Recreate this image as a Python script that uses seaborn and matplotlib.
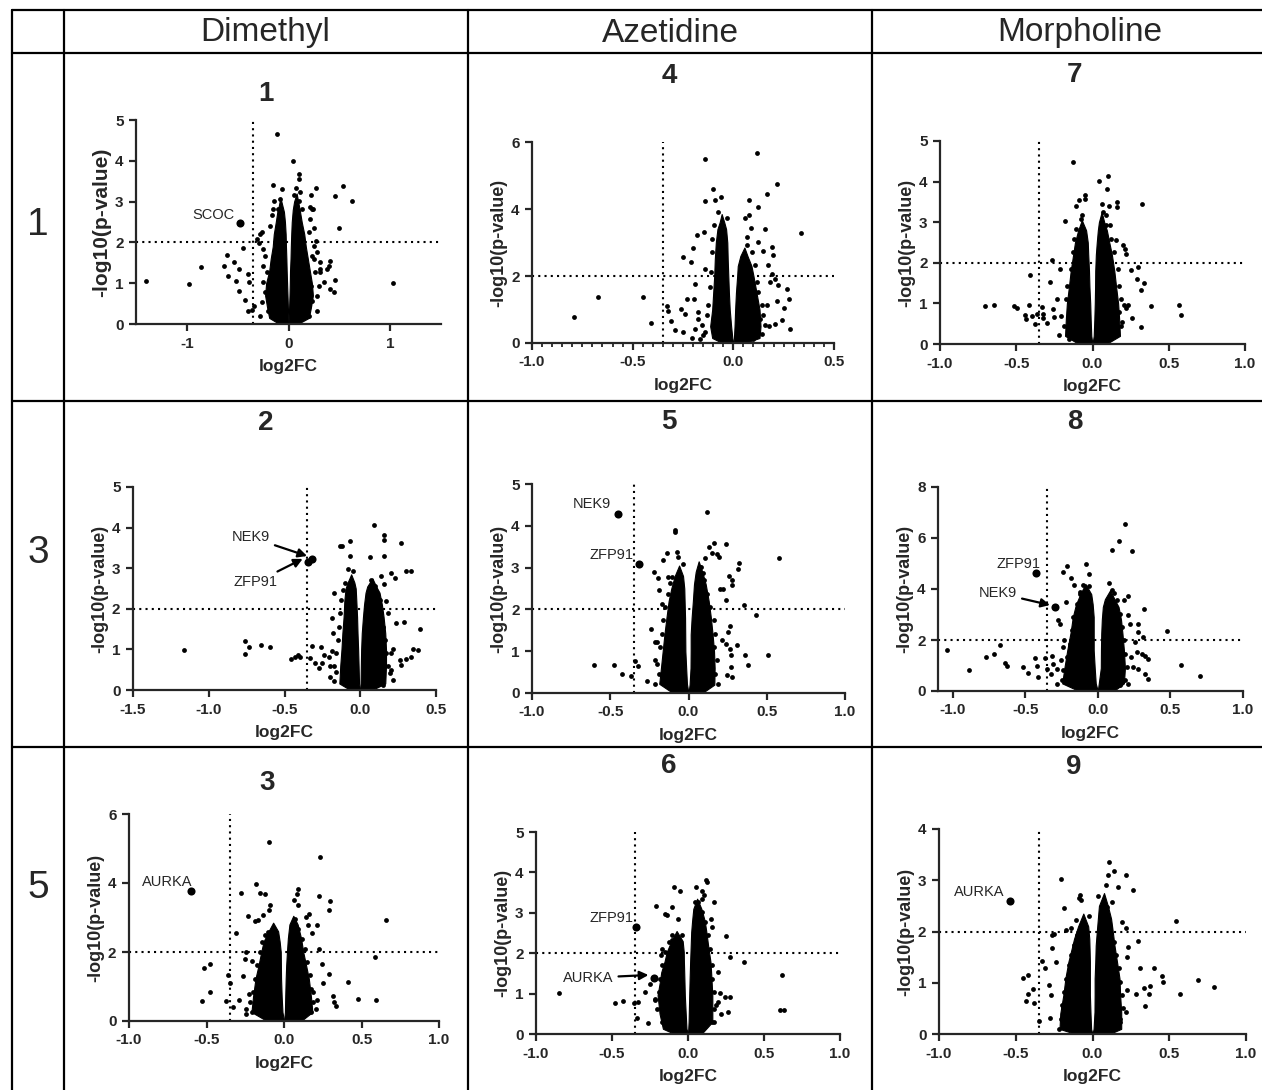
import matplotlib
matplotlib.use('Agg')
import matplotlib.pyplot as plt
import seaborn as sns
from matplotlib.lines import Line2D
from matplotlib.ticker import MultipleLocator, FormatStrFormatter

sns.set_style('ticks')
plt.rcParams['font.family'] = ['Liberation Sans', 'DejaVu Sans']
plt.rcParams['axes.unicode_minus'] = False

# table headers
columns = ['Dimethyl', 'Azetidine', 'Morpholine']
rows = ['1', '3', '5']

# thresholds drawn as dotted lines
fc_cut = -0.35
p_cut = 2

# ---- compound 1 (Dimethyl / row 1) ----
c1_points = [(-1.406, 1.06), (-0.975, 0.99), (-0.864, 1.39), (-0.607, 1.70), (-0.634, 1.43), (-0.598, 1.17),
             (-0.532, 1.53), (-0.516, 1.06), (-0.486, 1.36), (-0.486, 0.82), (-0.45, 1.86), (-0.427, 0.58),
             (-0.40, 1.23), (-0.39, 1.02), (-0.394, 0.33), (-0.36, 0.35), (-0.335, 0.45), (-0.31, 2.08),
             (-0.286, 1.99), (-0.28, 0.2), (-0.256, 2.25), (-0.154, 3.41), (-0.066, 3.31), (-0.115, 4.66),
             (-0.14, 3.02), (0.049, 3.99), (0.105, 3.68), (0.10, 3.55), (0.072, 3.33), (0.05, 3.15),
             (0.115, 3.24), (0.22, 3.15), (0.27, 3.33), (0.207, 2.86), (0.24, 2.82), (0.253, 2.35),
             (0.27, 2.04), (0.28, 1.76), (0.246, 1.59), (0.305, 1.35), (0.378, 1.35), (0.41, 1.55),
             (0.40, 1.43), (0.453, 3.13), (0.535, 3.39), (0.624, 3.02), (0.50, 2.35), (0.453, 1.08),
             (0.41, 0.86), (0.443, 0.79), (1.025, 1.00), (0.296, 0.94), (0.23, 0.57), (0.28, 0.33),
             (0.197, 0.2), (0.31, 1.27), (0.345, 1.02)]
c1_halo = [(-0.28, 2.21), (-0.253, 1.84), (-0.23, 1.67), (-0.246, 1.43), (-0.213, 1.27), (-0.253, 1.02),
           (-0.236, 0.78), (-0.263, 0.53), (-0.204, 0.33), (-0.18, 2.41), (-0.164, 2.66), (-0.148, 2.82),
           (-0.082, 3.06), (-0.10, 2.82), (0.23, 2.82), (0.213, 2.57), (0.197, 2.25), (0.253, 1.92),
           (0.23, 1.67), (0.312, 1.51), (0.263, 1.27), (0.22, 0.94), (0.28, 0.69), (0.197, 0.45),
           (0.148, 0.2), (0.10, 3.02), (0.131, 2.82), (0.082, 2.57)]
c1_left_y = [0, 0.15, 0.4, 0.7, 1.0, 1.3, 1.6, 1.9, 2.2, 2.5, 2.75, 2.9, 3.1]
c1_left_out = [-0.09, -0.19, -0.21, -0.23, -0.22, -0.19, -0.175, -0.155, -0.145, -0.125, -0.11, -0.095, -0.08]
c1_left_in = [0.0, -0.002, -0.006, -0.01, -0.014, -0.018, -0.021, -0.025, -0.028, -0.035, -0.045, -0.06, -0.08]
c1_right_y = [0, 0.15, 0.4, 0.7, 1.0, 1.3, 1.6, 1.9, 2.2, 2.5, 2.8, 3.0, 3.2]
c1_right_in = [0.0, 0.003, 0.006, 0.01, 0.013, 0.015, 0.02, 0.023, 0.027, 0.032, 0.042, 0.055, 0.08]
c1_right_out = [0.09, 0.20, 0.22, 0.24, 0.23, 0.21, 0.19, 0.17, 0.155, 0.13, 0.11, 0.095, 0.08]
c1_hits = [('SCOC', -0.473, 2.475)]

# ---- compound 4 (Azetidine / row 1) ----
c4_points = [(-0.789, 0.77), (-0.67, 1.36), (-0.45, 1.36), (-0.41, 0.60), (-0.33, 1.09), (-0.326, 0.96),
             (-0.31, 0.67), (-0.29, 0.40), (-0.26, 1.02), (-0.251, 2.56), (-0.248, 0.33), (-0.23, 1.31),
             (-0.24, 0.88), (-0.21, 2.42), (-0.20, 2.84), (-0.18, 3.21), (-0.207, 0.15), (-0.19, 1.77),
             (-0.193, 1.32), (-0.174, 0.93), (-0.14, 5.50), (-0.14, 4.23), (-0.145, 3.31), (-0.10, 4.61),
             (-0.063, 4.37), (-0.09, 4.26), (-0.033, 3.74), (-0.14, 2.22), (0.12, 5.68), (0.218, 4.75),
             (0.165, 4.46), (0.124, 4.06), (0.078, 4.28), (0.078, 3.81), (0.058, 3.74), (0.086, 3.44),
             (0.157, 3.39), (0.334, 3.28), (0.069, 3.15), (0.124, 3.01), (0.149, 2.74), (0.19, 2.87),
             (0.198, 2.64), (0.17, 2.32), (0.19, 2.07), (0.207, 1.92), (0.18, 1.82), (0.223, 1.72),
             (0.265, 1.60), (0.276, 1.32), (0.253, 1.05), (0.215, 1.24), (0.24, 0.70), (0.207, 0.58),
             (0.28, 0.43), (0.165, 1.12), (0.149, 0.83), (0.177, 0.51)]
c4_halo = [(-0.174, 0.73), (-0.157, 0.53), (-0.14, 0.33), (-0.132, 0.83), (-0.124, 1.12), (-0.149, 0.23),
           (-0.116, 1.67), (-0.111, 2.12), (-0.107, 2.72), (-0.104, 3.11), (-0.094, 3.51), (-0.074, 3.91),
           (-0.165, 0.13), (-0.19, 0.43), (0.132, 0.73), (0.14, 1.12), (0.124, 1.52), (0.116, 1.82),
           (0.107, 2.32), (0.091, 2.72), (0.066, 2.92), (0.055, 2.52), (0.157, 0.53), (0.14, 0.28),
           (0.099, 0.13)]
c4_left_y = [0, 0.15, 0.5, 1.0, 1.5, 2.0, 2.5, 3.0, 3.4, 3.6, 3.85]
c4_left_out = [-0.055, -0.105, -0.115, -0.105, -0.10, -0.095, -0.092, -0.087, -0.079, -0.068, -0.058]
c4_left_in = [0.0, -0.005, -0.011, -0.018, -0.022, -0.025, -0.028, -0.03, -0.036, -0.045, -0.058]
c4_right_y = [0, 0.15, 0.5, 1.0, 1.5, 2.0, 2.3, 2.6, 2.85]
c4_right_in = [0.0, 0.003, 0.006, 0.009, 0.013, 0.019, 0.022, 0.035, 0.055]
c4_right_out = [0.055, 0.13, 0.135, 0.13, 0.115, 0.10, 0.09, 0.07, 0.055]
c4_hits = []

# ---- compound 7 (Morpholine / row 1) ----
c7_points = [(-0.706, 0.93), (-0.645, 0.97), (-0.518, 0.93), (-0.498, 0.88), (-0.41, 1.71), (-0.418, 0.95),
             (-0.44, 0.72), (-0.437, 0.62), (-0.40, 0.70), (-0.378, 0.49), (-0.365, 0.74), (-0.328, 0.92),
             (-0.324, 0.74), (-0.324, 0.64), (-0.30, 0.52), (-0.277, 1.52), (-0.268, 2.06), (-0.26, 0.86),
             (-0.25, 0.66), (-0.23, 1.11), (-0.21, 1.85), (-0.18, 3.03), (-0.13, 4.48), (-0.105, 3.41),
             (-0.088, 3.54), (-0.05, 3.68), (-0.05, 3.58), (-0.066, 3.17), (0.043, 4.01), (0.10, 4.13),
             (0.093, 3.82), (0.06, 3.45), (0.16, 3.50), (0.16, 3.37), (0.109, 3.39), (0.327, 3.45),
             (0.115, 2.92), (0.087, 3.17), (0.153, 2.55), (0.20, 2.43), (0.218, 2.22), (0.21, 2.33),
             (0.25, 1.83), (0.30, 1.89), (0.339, 1.50), (0.29, 1.60), (0.317, 1.34), (0.233, 0.95),
             (0.218, 0.88), (0.192, 0.55), (0.258, 0.64), (0.32, 0.41), (0.383, 0.93), (0.568, 0.95),
             (0.58, 0.71), (0.115, 0.12)]
c7_halo = [(-0.186, 0.45), (-0.208, 0.70), (-0.175, 1.11), (-0.164, 1.44), (-0.142, 1.85), (-0.131, 2.26),
           (-0.12, 2.59), (-0.105, 2.84), (-0.077, 3.08), (-0.219, 0.21), (-0.153, 0.12), (0.186, 0.45),
           (0.175, 0.78), (0.186, 1.11), (0.175, 1.44), (0.164, 1.85), (0.142, 2.26), (0.12, 2.59),
           (0.087, 2.92), (0.066, 3.25), (0.208, 0.95), (0.153, 0.21)]
c7_left_y = [0, 0.2, 0.6, 1.0, 1.4, 1.8, 2.2, 2.5, 2.8, 3.05]
c7_left_out = [-0.09, -0.18, -0.175, -0.168, -0.155, -0.143, -0.127, -0.115, -0.094, -0.07]
c7_left_in = [0.0, -0.008, -0.012, -0.015, -0.02, -0.023, -0.028, -0.031, -0.042, -0.07]
c7_right_y = [0, 0.2, 0.6, 1.0, 1.4, 1.8, 2.2, 2.5, 2.8, 3.0, 3.25]
c7_right_in = [0.0, 0.008, 0.012, 0.015, 0.017, 0.018, 0.022, 0.028, 0.035, 0.042, 0.06]
c7_right_out = [0.09, 0.18, 0.175, 0.168, 0.155, 0.143, 0.127, 0.11, 0.094, 0.077, 0.06]
c7_hits = []

# ---- compound 2 (Dimethyl / row 3) ----
c2_points = [(-1.164, 0.99), (-0.763, 1.21), (-0.737, 1.07), (-0.763, 0.89), (-0.653, 1.11), (-0.598, 1.07),
             (-0.459, 0.76), (-0.432, 0.81), (-0.41, 0.86), (-0.396, 0.81), (-0.334, 0.78), (-0.316, 1.09),
             (-0.30, 0.66), (-0.274, 0.55), (-0.26, 1.07), (-0.253, 0.67), (-0.239, 0.86), (-0.208, 0.82),
             (-0.20, 0.58), (-0.184, 0.97), (-0.18, 1.40), (-0.17, 2.38), (-0.184, 1.77), (-0.158, 0.45),
             (-0.136, 3.55), (-0.12, 3.55), (-0.065, 3.66), (-0.065, 3.31), (-0.08, 2.98), (-0.047, 2.92),
             (0.089, 4.06), (0.155, 3.82), (0.155, 3.70), (0.268, 3.62), (0.16, 3.29), (0.067, 3.27),
             (0.305, 2.92), (0.338, 2.92), (0.20, 2.89), (0.14, 2.81), (0.228, 2.77), (0.16, 2.62),
             (0.108, 2.30), (0.173, 2.19), (0.184, 1.89), (0.29, 1.67), (0.393, 1.50), (0.239, 1.64),
             (0.35, 1.00), (0.382, 0.99), (0.338, 0.81), (0.305, 0.76), (0.26, 0.74), (0.268, 0.62),
             (0.206, 0.90), (0.217, 1.00), (0.195, 0.41), (0.206, 0.49)]
c2_halo = [(-0.158, 0.9), (-0.17, 0.58), (-0.146, 1.23), (-0.14, 1.56), (-0.135, 1.89), (-0.124, 2.22),
           (-0.113, 2.47), (-0.102, 2.63), (-0.20, 0.33), (-0.175, 0.21), (0.173, 0.9), (0.184, 0.58),
           (0.162, 1.23), (0.151, 1.56), (0.14, 1.89), (0.129, 2.22), (0.096, 2.55), (0.074, 2.71),
           (0.217, 0.25), (0.151, 0.12)]
c2_left_y = [0, 0.16, 0.6, 1.0, 1.4, 1.8, 2.2, 2.5, 2.65, 2.85]
c2_left_out = [-0.066, -0.138, -0.132, -0.124, -0.118, -0.11, -0.105, -0.097, -0.083, -0.06]
c2_left_in = [0.0, -0.008, -0.011, -0.014, -0.018, -0.021, -0.026, -0.03, -0.039, -0.06]
c2_right_y = [0, 0.16, 0.6, 1.0, 1.4, 1.8, 2.1, 2.4, 2.55, 2.75]
c2_right_in = [0.0, 0.002, 0.004, 0.006, 0.01, 0.018, 0.025, 0.035, 0.046, 0.08]
c2_right_out = [0.077, 0.165, 0.17, 0.17, 0.165, 0.154, 0.143, 0.127, 0.105, 0.08]
c2_hits = [('NEK9', -0.316, 3.22), ('ZFP91', -0.345, 3.15)]

# ---- compound 5 (Azetidine / row 3) ----
c5_points = [(-0.606, 0.68), (-0.479, 0.68), (-0.426, 0.45), (-0.368, 0.40), (-0.34, 0.77), (-0.32, 0.65),
             (-0.266, 0.29), (-0.238, 1.52), (-0.217, 1.22), (-0.20, 1.22), (-0.213, 0.80), (-0.223, 2.90),
             (-0.198, 2.76), (-0.187, 2.46), (-0.17, 2.13), (-0.164, 3.18), (-0.138, 3.36), (-0.128, 2.77),
             (-0.089, 3.90), (-0.085, 3.84), (-0.074, 3.38), (-0.07, 3.26), (-0.032, 3.09), (0.117, 4.33),
             (0.134, 3.49), (0.166, 3.58), (0.24, 3.57), (0.149, 3.34), (0.185, 3.33), (0.196, 3.26),
             (0.106, 3.22), (0.079, 3.02), (0.091, 2.86), (0.579, 3.22), (0.323, 3.10), (0.319, 2.97),
             (0.277, 2.70), (0.277, 2.58), (0.26, 2.80), (0.202, 2.50), (0.223, 2.50), (0.24, 2.22),
             (0.357, 2.10), (0.432, 1.86), (0.266, 1.61), (0.255, 1.46), (0.213, 1.26), (0.24, 1.17),
             (0.309, 1.16), (0.266, 1.06), (0.362, 0.90), (0.379, 0.68), (0.506, 0.90), (0.27, 0.90),
             (0.27, 0.62), (0.245, 0.42), (0.277, 0.38)]
c5_halo = [(-0.191, 0.46), (-0.202, 0.70), (-0.181, 1.10), (-0.17, 1.42), (-0.16, 1.74), (-0.149, 2.06),
           (-0.128, 2.38), (-0.117, 2.62), (-0.106, 2.78), (-0.213, 0.22), (0.17, 0.46), (0.181, 0.78),
           (0.16, 1.10), (0.17, 1.42), (0.16, 1.74), (0.138, 2.06), (0.117, 2.38), (0.096, 2.70),
           (0.074, 3.02), (0.191, 0.22)]
c5_left_y = [0, 0.22, 0.6, 1.0, 1.4, 1.8, 2.2, 2.5, 2.8, 3.05]
c5_left_out = [-0.10, -0.187, -0.176, -0.165, -0.154, -0.141, -0.127, -0.11, -0.088, -0.06]
c5_left_in = [0.0, -0.01, -0.015, -0.02, -0.021, -0.022, -0.025, -0.027, -0.035, -0.06]
c5_right_y = [0, 0.2, 0.6, 1.0, 1.4, 1.8, 2.2, 2.6, 2.9, 3.15]
c5_right_in = [0.0, 0.007, 0.013, 0.014, 0.014, 0.02, 0.028, 0.035, 0.046, 0.065]
c5_right_out = [0.088, 0.165, 0.167, 0.163, 0.154, 0.143, 0.129, 0.11, 0.088, 0.065]
c5_hits = [('NEK9', -0.453, 4.28), ('ZFP91', -0.315, 3.09)]

# ---- compound 8 (Morpholine / row 3) ----
c8_points = [(-1.041, 1.59), (-0.885, 0.84), (-0.772, 1.32), (-0.715, 1.46), (-0.674, 1.82), (-0.64, 1.10),
             (-0.623, 0.97), (-0.513, 0.94), (-0.483, 0.71), (-0.432, 1.29), (-0.416, 0.97), (-0.414, 0.55),
             (-0.363, 1.29), (-0.352, 0.88), (-0.324, 0.65), (-0.317, 1.37), (-0.306, 1.07), (-0.283, 0.88),
             (-0.271, 2.77), (-0.26, 2.64), (-0.241, 4.67), (-0.214, 4.90), (-0.221, 3.49), (-0.23, 2.01),
             (-0.241, 1.73), (-0.255, 1.20), (-0.186, 4.44), (-0.161, 4.14), (-0.08, 4.99), (-0.062, 4.58),
             (-0.06, 4.12), (-0.122, 3.88), (0.189, 6.56), (0.143, 5.88), (0.097, 5.52), (0.239, 5.49),
             (0.074, 4.24), (0.113, 3.86), (0.205, 3.73), (0.182, 3.58), (0.315, 3.23), (0.211, 2.99),
             (0.223, 2.64), (0.274, 2.64), (0.28, 2.31), (0.476, 2.34), (0.31, 2.12), (0.257, 1.92),
             (0.269, 1.53), (0.303, 1.44), (0.326, 1.37), (0.349, 1.27), (0.228, 1.33), (0.246, 0.94),
             (0.28, 0.88), (0.326, 0.65), (0.349, 0.48), (0.575, 1.01), (0.706, 0.59), (0.154, 0.22)]
c8_halo = [(-0.248, 0.42), (-0.237, 0.81), (-0.214, 1.33), (-0.191, 1.86), (-0.179, 2.38), (-0.168, 2.90),
           (-0.145, 3.42), (-0.122, 3.82), (-0.099, 4.14), (-0.283, 0.29), (0.189, 0.42), (0.20, 0.94),
           (0.189, 1.46), (0.182, 1.99), (0.17, 2.51), (0.154, 3.03), (0.131, 3.56), (0.097, 3.95),
           (0.211, 0.29)]
c8_left_y = [0, 0.3, 0.9, 1.6, 2.3, 2.9, 3.4, 3.8, 4.2]
c8_left_out = [-0.13, -0.245, -0.23, -0.21, -0.187, -0.172, -0.15, -0.12, -0.085]
c8_left_in = [0.0, -0.014, -0.021, -0.028, -0.028, -0.028, -0.035, -0.045, -0.085]
c8_right_y = [0, 0.3, 0.9, 1.6, 2.25, 2.8, 3.3, 3.6, 3.95]
c8_right_in = [0.0, 0.007, 0.021, 0.022, 0.024, 0.028, 0.035, 0.049, 0.085]
c8_right_out = [0.11, 0.18, 0.187, 0.18, 0.17, 0.16, 0.143, 0.115, 0.085]
c8_hits = [('ZFP91', -0.425, 4.63), ('NEK9', -0.294, 3.29)]

# ---- compound 3 (Dimethyl / row 5) ----
c3_points = [(-0.532, 0.57), (-0.517, 1.54), (-0.478, 0.84), (-0.478, 1.65), (-0.371, 0.57), (-0.36, 1.33),
             (-0.349, 1.11), (-0.332, 0.41), (-0.31, 2.56), (-0.28, 3.72), (-0.291, 0.60), (-0.263, 1.31),
             (-0.252, 1.81), (-0.242, 2.00), (-0.231, 3.05), (-0.246, 0.21), (-0.225, 0.79), (-0.205, 1.73),
             (-0.182, 3.96), (-0.188, 2.89), (-0.167, 2.94), (-0.152, 3.70), (-0.124, 3.67), (-0.098, 5.20),
             (-0.091, 3.36), (-0.095, 3.23), (-0.134, 3.07), (0.091, 3.84), (0.063, 3.50), (0.085, 3.67),
             (0.091, 3.36), (0.231, 4.74), (0.227, 3.62), (0.296, 3.48), (0.289, 3.21), (0.145, 3.02),
             (0.162, 3.09), (0.214, 2.78), (0.66, 2.92), (0.156, 2.78), (0.178, 2.54), (0.224, 2.10),
             (0.242, 1.64), (0.586, 1.86), (0.289, 1.37), (0.252, 1.11), (0.413, 1.13), (0.478, 0.65),
             (0.594, 0.62), (0.313, 0.73), (0.322, 0.55), (0.335, 0.44), (0.21, 0.60), (0.188, 0.84)]
c3_halo = [(-0.209, 0.26), (-0.22, 0.55), (-0.199, 0.84), (-0.188, 1.23), (-0.177, 1.62), (-0.156, 2.0),
           (-0.139, 2.29), (-0.124, 2.49), (-0.102, 2.58), (-0.242, 0.36), (0.177, 0.26), (0.188, 0.55),
           (0.177, 0.94), (0.166, 1.33), (0.151, 1.71), (0.134, 2.10), (0.113, 2.39), (0.091, 2.68),
           (0.07, 2.97), (0.209, 0.36)]
c3_left_y = [0, 0.26, 0.7, 1.23, 1.6, 2.0, 2.3, 2.6, 2.85]
c3_left_out = [-0.11, -0.21, -0.20, -0.184, -0.165, -0.147, -0.132, -0.10, -0.07]
c3_left_in = [0.0, -0.01, -0.015, -0.019, -0.02, -0.021, -0.028, -0.038, -0.07]
c3_right_y = [0, 0.26, 0.7, 1.23, 1.6, 2.0, 2.4, 2.8, 3.05]
c3_right_in = [0.0, 0.006, 0.008, 0.011, 0.014, 0.019, 0.025, 0.035, 0.06]
c3_right_out = [0.11, 0.183, 0.174, 0.16, 0.143, 0.124, 0.11, 0.088, 0.06]
c3_hits = [('AURKA', -0.60, 3.77)]

# ---- compound 6 (Azetidine / row 5) ----
c6_points = [(-0.851, 1.01), (-0.483, 0.77), (-0.43, 0.81), (-0.358, 0.77), (-0.33, 0.78), (-0.336, 0.40),
             (-0.26, 0.26), (-0.28, 1.04), (-0.253, 1.25), (-0.22, 0.83), (-0.212, 3.18), (-0.179, 1.96),
             (-0.172, 2.11), (-0.15, 2.98), (-0.139, 2.94), (-0.102, 3.14), (-0.091, 3.64), (-0.052, 3.54),
             (-0.063, 2.85), (-0.04, 2.44), (-0.106, 2.32), (0.054, 3.64), (0.091, 3.53), (0.117, 3.80),
             (0.128, 3.76), (0.095, 3.35), (0.108, 3.43), (0.168, 3.27), (0.047, 3.27), (0.15, 2.85),
             (0.156, 2.65), (0.248, 2.42), (0.277, 1.91), (0.369, 1.77), (0.20, 1.53), (0.211, 1.02),
             (0.244, 0.92), (0.277, 0.92), (0.218, 0.50), (0.266, 0.54), (0.617, 1.45), (0.606, 0.59),
             (0.632, 0.60), (0.183, 0.71), (0.157, 0.30)]
c6_halo = [(-0.172, 0.30), (-0.205, 0.63), (-0.194, 1.04), (-0.183, 1.37), (-0.168, 1.70), (-0.15, 2.03),
           (-0.128, 2.28), (-0.106, 2.44), (-0.216, 0.87), (0.168, 0.30), (0.174, 0.63), (0.168, 1.04),
           (0.161, 1.37), (0.156, 1.70), (0.146, 2.11), (0.13, 2.44), (0.113, 2.77), (0.095, 3.02),
           (0.069, 3.27), (0.20, 0.79)]
c6_left_y = [0, 0.13, 0.5, 0.96, 1.25, 1.53, 1.8, 2.03, 2.3, 2.55]
c6_left_out = [-0.088, -0.165, -0.187, -0.20, -0.187, -0.176, -0.154, -0.14, -0.11, -0.075]
c6_left_in = [0.0, -0.01, -0.015, -0.021, -0.023, -0.025, -0.027, -0.028, -0.035, -0.075]
c6_right_y = [0, 0.3, 0.96, 1.4, 1.78, 2.2, 2.52, 2.8, 3.1, 3.35]
c6_right_in = [0.0, 0.004, 0.008, 0.011, 0.014, 0.018, 0.021, 0.027, 0.035, 0.06]
c6_right_out = [0.088, 0.16, 0.16, 0.154, 0.148, 0.132, 0.121, 0.11, 0.088, 0.06]
c6_hits = [('ZFP91', -0.34, 2.65), ('AURKA', -0.225, 1.38)]

# ---- compound 9 (Morpholine / row 5) ----
c9_points = [(-0.451, 1.10), (-0.421, 1.15), (-0.423, 0.79), (-0.43, 0.64), (-0.386, 0.87), (-0.382, 0.61),
             (-0.349, 0.26), (-0.328, 1.42), (-0.31, 1.29), (-0.284, 0.95), (-0.278, 0.31), (-0.27, 0.77),
             (-0.262, 1.67), (-0.267, 1.93), (-0.252, 1.96), (-0.24, 1.41), (-0.208, 3.02), (-0.187, 2.45),
             (-0.19, 0.53), (-0.17, 2.03), (-0.143, 2.07), (-0.106, 2.22), (-0.089, 2.66), (-0.08, 2.72),
             (-0.078, 2.61), (-0.024, 2.31), (0.037, 2.70), (0.11, 3.36), (0.10, 3.11), (0.139, 3.19),
             (0.221, 3.10), (0.167, 2.87), (0.262, 2.81), (0.085, 2.91), (0.128, 2.58), (0.095, 2.48),
             (0.189, 2.18), (0.215, 2.06), (0.295, 1.81), (0.545, 2.20), (0.232, 1.70), (0.226, 1.50),
             (0.312, 1.28), (0.403, 1.29), (0.453, 1.13), (0.458, 1.02), (0.334, 0.90), (0.373, 0.94),
             (0.367, 0.79), (0.286, 0.79), (0.226, 0.85), (0.34, 0.54), (0.568, 0.79), (0.685, 1.06),
             (0.794, 0.92), (0.215, 0.43), (0.182, 0.29)]
c9_halo = [(-0.219, 0.10), (-0.208, 0.30), (-0.197, 0.56), (-0.187, 0.82), (-0.171, 1.08), (-0.154, 1.34),
           (-0.137, 1.54), (-0.121, 1.73), (-0.10, 1.93), (-0.078, 2.12), (0.182, 0.23), (0.197, 0.50),
           (0.193, 0.76), (0.182, 1.02), (0.171, 1.28), (0.156, 1.54), (0.139, 1.80), (0.117, 2.06),
           (0.095, 2.25), (0.074, 2.51)]
c9_left_y = [0, 0.1, 0.4, 0.76, 1.1, 1.41, 1.65, 1.86, 2.1, 2.35]
c9_left_out = [-0.11, -0.215, -0.21, -0.19, -0.176, -0.157, -0.137, -0.12, -0.094, -0.06]
c9_left_in = [0.0, -0.009, -0.013, -0.017, -0.017, -0.017, -0.019, -0.021, -0.028, -0.06]
c9_right_y = [0, 0.1, 0.43, 0.76, 1.08, 1.4, 1.73, 2.0, 2.25, 2.5, 2.75]
c9_right_in = [0.0, 0.007, 0.013, 0.014, 0.014, 0.018, 0.021, 0.028, 0.035, 0.042, 0.075]
c9_right_out = [0.11, 0.187, 0.187, 0.18, 0.176, 0.16, 0.143, 0.132, 0.121, 0.10, 0.075]
c9_hits = [('AURKA', -0.54, 2.60)]

data = {
    '1': (c1_points + c1_halo, c1_left_y, c1_left_out, c1_left_in, c1_right_y, c1_right_in, c1_right_out, c1_hits),
    '4': (c4_points + c4_halo, c4_left_y, c4_left_out, c4_left_in, c4_right_y, c4_right_in, c4_right_out, c4_hits),
    '7': (c7_points + c7_halo, c7_left_y, c7_left_out, c7_left_in, c7_right_y, c7_right_in, c7_right_out, c7_hits),
    '2': (c2_points + c2_halo, c2_left_y, c2_left_out, c2_left_in, c2_right_y, c2_right_in, c2_right_out, c2_hits),
    '5': (c5_points + c5_halo, c5_left_y, c5_left_out, c5_left_in, c5_right_y, c5_right_in, c5_right_out, c5_hits),
    '8': (c8_points + c8_halo, c8_left_y, c8_left_out, c8_left_in, c8_right_y, c8_right_in, c8_right_out, c8_hits),
    '3': (c3_points + c3_halo, c3_left_y, c3_left_out, c3_left_in, c3_right_y, c3_right_in, c3_right_out, c3_hits),
    '6': (c6_points + c6_halo, c6_left_y, c6_left_out, c6_left_in, c6_right_y, c6_right_in, c6_right_out, c6_hits),
    '9': (c9_points + c9_halo, c9_left_y, c9_left_out, c9_left_in, c9_right_y, c9_right_in, c9_right_out, c9_hits),
}

# gene label placement (text centre, arrow or not)
label_layout = {
    ('1', 'SCOC'): (-0.74, 2.66, False),
    ('2', 'NEK9'): (-0.72, 3.76, True),
    ('2', 'ZFP91'): (-0.69, 2.65, True),
    ('5', 'NEK9'): (-0.62, 4.53, False),
    ('5', 'ZFP91'): (-0.49, 3.30, False),
    ('8', 'ZFP91'): (-0.547, 4.99, False),
    ('8', 'NEK9'): (-0.685, 3.84, True),
    ('3', 'AURKA'): (-0.753, 4.04, False),
    ('6', 'ZFP91'): (-0.50, 2.88, False),
    ('6', 'AURKA'): (-0.654, 1.39, True),
    ('9', 'AURKA'): (-0.735, 2.78, False),
}

# layout in pixels: panel id, (left, right, top, bottom), xlim, x step, x minor, x format, ylim, y step, title (x, y)
W, H = 1262, 1090
panels = [
    ('1', (136, 441, 120, 324), (-1.5, 1.5), 1.0, None, '%d', (0, 5), 1, (266, 94)),
    ('4', (532, 834, 142, 343), (-1.0, 0.5), 0.5, 0.05, '%.1f', (0, 6), 2, (669, 76)),
    ('7', (940, 1245, 141, 344), (-1.0, 1.0), 0.5, None, '%.1f', (0, 5), 1, (1074, 75)),
    ('2', (133, 436, 487, 690), (-1.5, 0.5), 0.5, None, '%.1f', (0, 5), 1, (266, 423)),
    ('5', (532, 845, 484, 693), (-1.0, 1.0), 0.5, None, '%.1f', (0, 5), 1, (669, 422)),
    ('8', (938, 1243, 487, 691), (-1.1, 1.0), 0.5, None, '%.1f', (0, 8), 2, (1075, 422)),
    ('3', (129, 439, 814, 1021), (-1.0, 1.0), 0.5, None, '%.1f', (0, 6), 2, (267, 783)),
    ('6', (536, 840, 832, 1034), (-1.0, 1.0), 0.5, None, '%.1f', (0, 5), 1, (669, 766)),
    ('9', (939, 1246, 829, 1034), (-1.0, 1.0), 0.5, None, '%.1f', (0, 4), 1, (1074, 767)),
]


def draw_volcano(ax, pid):
    pts, ly, lo, li, ry, ri, ro, hits = data[pid]
    # dense core of the cloud
    ax.fill_betweenx(ly, lo, li, color='black', lw=0.8, edgecolor='black')
    ax.fill_betweenx(ry, ri, ro, color='black', lw=0.8, edgecolor='black')
    sns.scatterplot(x=[p[0] for p in pts], y=[p[1] for p in pts], ax=ax,
                    color='black', s=12, linewidth=0, legend=False)
    ax.axvline(fc_cut, color='black', lw=1.5, ls=(0, (1, 2.0)))
    ax.axhline(p_cut, color='black', lw=1.5, ls=(0, (1, 2.0)))
    if hits:
        sns.scatterplot(x=[h[1] for h in hits], y=[h[2] for h in hits], ax=ax,
                        color='black', s=34, linewidth=0, legend=False, zorder=5)
    for name, hx, hy in hits:
        tx, ty, arrow = label_layout[(pid, name)]
        if arrow:
            ax.annotate(name, xy=(hx - 0.035, hy + 0.08), xytext=(tx, ty), ha='center', va='center',
                        fontsize=10.5, arrowprops=dict(arrowstyle='-|>', color='black', lw=1.6,
                                                       mutation_scale=13, shrinkA=1, shrinkB=0))
        else:
            ax.text(tx, ty, name, ha='center', va='center', fontsize=10.5)


fig = plt.figure(figsize=(W / 100, H / 100), dpi=100)

for pid, (l, r, t, b), xlim, xstep, xminor, xfmt, ylim, ystep, (cx, cy) in panels:
    ax = fig.add_axes([l / W, 1 - b / H, (r - l) / W, (b - t) / H])
    draw_volcano(ax, pid)
    ax.set_xlim(xlim)
    ax.set_ylim(ylim)
    ax.xaxis.set_major_locator(MultipleLocator(xstep))
    ax.xaxis.set_major_formatter(FormatStrFormatter(xfmt))
    if xminor:
        ax.xaxis.set_minor_locator(MultipleLocator(xminor))
        ax.tick_params(axis='x', which='minor', length=3, width=1.3)
    ax.yaxis.set_major_locator(MultipleLocator(ystep))
    sns.despine(ax=ax)
    for s in ['left', 'bottom']:
        ax.spines[s].set_linewidth(1.6)
    ax.tick_params(which='major', length=5, width=1.6, pad=4, labelsize=11)
    for lab in ax.get_xticklabels() + ax.get_yticklabels():
        lab.set_fontweight('bold')
    ax.set_xlabel('log2FC', fontsize=12.5, fontweight='bold', labelpad=6)
    ax.set_ylabel('-log10(p-value)', fontsize=15 if pid == '1' else 13, fontweight='bold', labelpad=3)
    fig.text(cx / W, 1 - cy / H, pid, ha='center', va='center', fontsize=20, fontweight='bold')

# table frame
hlines_px = [9.5, 53, 401, 747]
vlines_px = [12, 63.5, 468, 872]
for yp in hlines_px:
    fig.add_artist(Line2D([12 / W, 1.0], [1 - yp / H, 1 - yp / H], color='black', lw=1.6))
for xp in vlines_px:
    fig.add_artist(Line2D([xp / W, xp / W], [1 - 9.5 / H, 0.0], color='black', lw=1.6))

# column and row headers
col_centers = [265, 670, 1080]
for name, xc in zip(columns, col_centers):
    fig.text(xc / W, 1 - 33 / H, name, ha='center', va='center', fontsize=24)
row_centers = [225, 553, 888]
for name, yc in zip(rows, row_centers):
    fig.text(38 / W, 1 - yc / H, name, ha='center', va='center', fontsize=28)

fig.savefig('out.png', dpi=100)
